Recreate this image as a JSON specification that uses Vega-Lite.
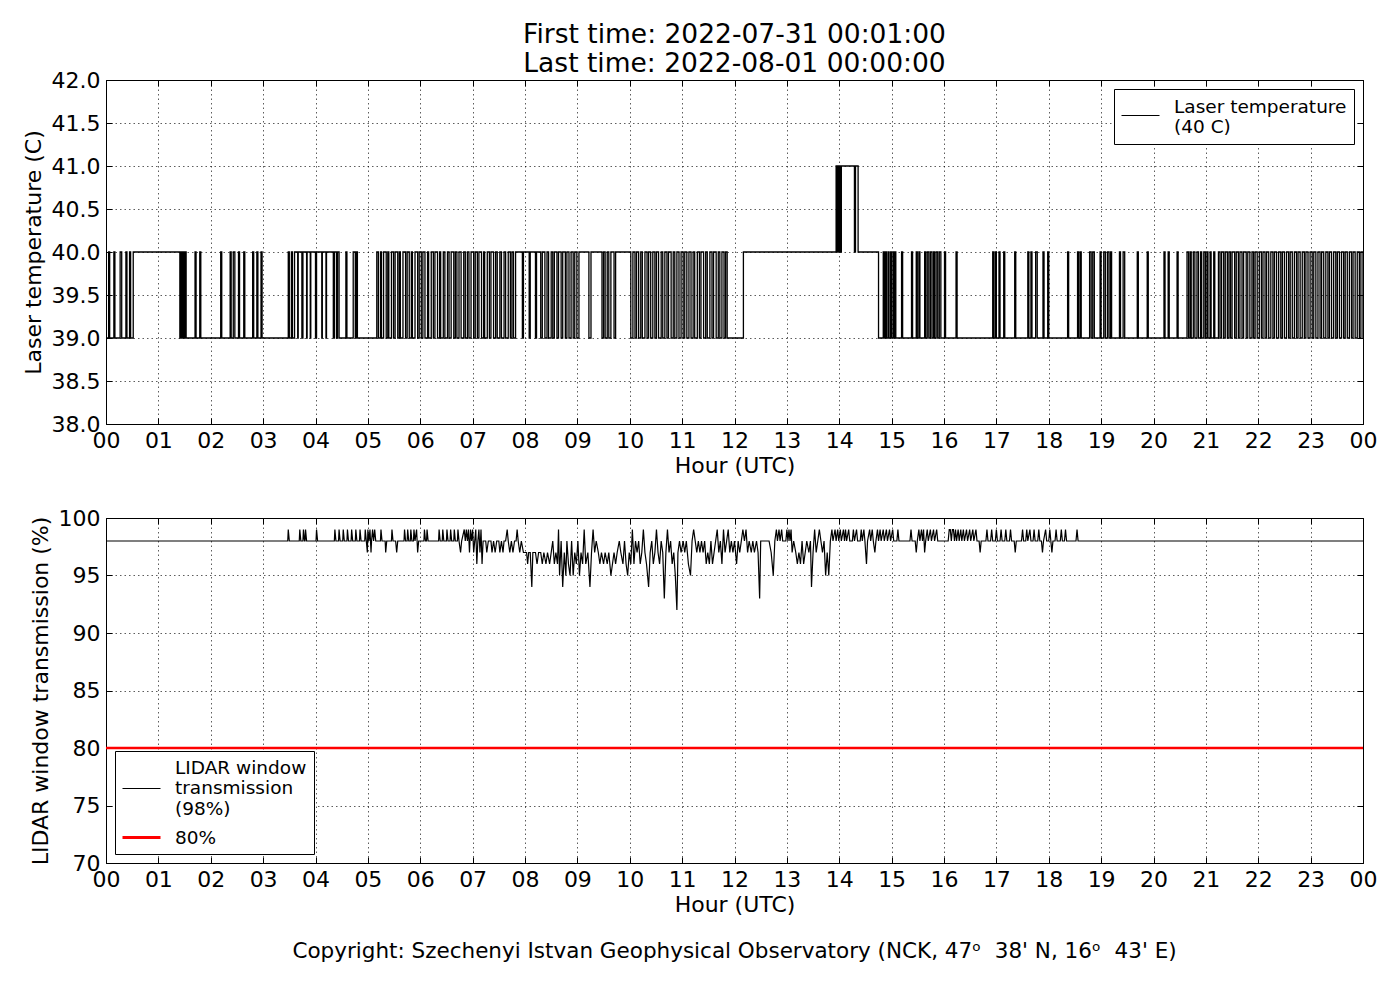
{
  "$schema": "https://vega.github.io/schema/vega-lite/v6.json",
  "padding": {"left": 21, "top": 21, "right": 5, "bottom": 5},
  "background": "white",
  "spacing": 29,
  "resolve": {"scale": {"color": "independent"}, "legend": {"color": "independent"}},
  "config": {
    "font": "DejaVu Sans",
    "view": {"stroke": "black", "strokeWidth": 1},
    "axis": {
      "labelFont": "DejaVu Sans", "labelFontSize": 22, "labelColor": "black",
      "titleFont": "DejaVu Sans", "titleFontSize": 22, "titleFontWeight": "normal", "titleColor": "black",
      "domain": false, "tickColor": "black", "tickSize": -6, "tickWidth": 1, "labelPadding": 12,
      "labelFlush": false, "labelOverlap": false, "labelBound": false, "zindex": 1,
      "gridColor": "black", "gridDash": [1.5, 3], "gridOpacity": 0.8, "gridWidth": 0.8
    },
    "legend": {
      "strokeColor": "black", "fillColor": "white", "padding": 7, "cornerRadius": 0, "zindex": 2,
      "symbolType": "stroke", "symbolSize": 1444, "symbolStrokeWidth": 1,
      "labelFont": "DejaVu Sans", "labelFontSize": 18.5, "labelColor": "black", "labelLimit": 400,
      "labelOffset": 14, "rowPadding": 6, "labelLineHeight": 21
    }
  },
  "datasets": {
    "laser": [
      {"h":0,"v":39},{"h":0.05,"v":40},{"h":0.07,"v":39},{"h":0.15,"v":40},{"h":0.17,"v":39},{"h":0.27,"v":40},{"h":0.30,"v":39},{"h":0.38,"v":40},{"h":0.40,"v":39},{"h":0.45,"v":40},{"h":0.47,"v":39},{"h":0.52,"v":40},
      {"h":1.41,"v":39},{"h":1.43,"v":40},{"h":1.45,"v":39},{"h":1.47,"v":40},{"h":1.49,"v":39},{"h":1.51,"v":40},{"h":1.53,"v":39},
      {"h":1.70,"v":40},{"h":1.72,"v":39},{"h":1.79,"v":40},{"h":1.81,"v":39},{"h":2.19,"v":40},{"h":2.21,"v":39},{"h":2.37,"v":40},{"h":2.39,"v":39},{"h":2.43,"v":40},{"h":2.46,"v":39},{"h":2.53,"v":40},{"h":2.55,"v":39},{"h":2.63,"v":40},{"h":2.65,"v":39},{"h":2.80,"v":40},{"h":2.82,"v":39},{"h":2.88,"v":40},{"h":2.90,"v":39},{"h":2.96,"v":40},{"h":2.98,"v":39},
      {"h":3.48,"v":40},{"h":3.50,"v":39},{"h":3.54,"v":40},{"h":3.56,"v":39},{"h":3.60,"v":40},{"h":3.66,"v":39},{"h":3.67,"v":40},{"h":3.74,"v":39},{"h":3.76,"v":40},{"h":3.83,"v":39},{"h":3.84,"v":40},{"h":3.90,"v":39},{"h":3.91,"v":40},{"h":4.00,"v":39},{"h":4.02,"v":40},{"h":4.12,"v":39},{"h":4.13,"v":40},{"h":4.20,"v":39},{"h":4.21,"v":40},{"h":4.34,"v":39},{"h":4.36,"v":40},{"h":4.40,"v":39},{"h":4.42,"v":40},{"h":4.45,"v":39},
      {"h":4.58,"v":40},{"h":4.60,"v":39},{"h":4.72,"v":40},{"h":4.76,"v":39},{"h":4.78,"v":40},{"h":4.80,"v":39},
      {"h":5.17,"v":40},{"h":5.20,"v":39},{"h":5.24,"v":40},{"h":5.26,"v":39},{"h":5.30,"v":40},{"h":5.35,"v":39},{"h":5.38,"v":40},{"h":5.40,"v":39},{"h":5.45,"v":40},{"h":5.49,"v":39},{"h":5.52,"v":40},{"h":5.57,"v":39},{"h":5.60,"v":40},{"h":5.62,"v":39},{"h":5.67,"v":40},{"h":5.72,"v":39},{"h":5.75,"v":40},{"h":5.79,"v":39},{"h":5.83,"v":40},{"h":5.85,"v":39},{"h":5.90,"v":40},{"h":5.95,"v":39},{"h":5.98,"v":40},{"h":6.02,"v":39},{"h":6.05,"v":40},{"h":6.09,"v":39},{"h":6.14,"v":40},{"h":6.16,"v":39},{"h":6.21,"v":40},{"h":6.25,"v":39},{"h":6.28,"v":40},{"h":6.33,"v":39},{"h":6.37,"v":40},{"h":6.39,"v":39},{"h":6.44,"v":40},{"h":6.47,"v":39},{"h":6.52,"v":40},{"h":6.55,"v":39},{"h":6.59,"v":40},{"h":6.64,"v":39},{"h":6.67,"v":40},{"h":6.70,"v":39},{"h":6.74,"v":40},{"h":6.78,"v":39},{"h":6.83,"v":40},{"h":6.86,"v":39},{"h":6.90,"v":40},{"h":6.93,"v":39},{"h":6.97,"v":40},{"h":7.02,"v":39},{"h":7.05,"v":40},{"h":7.09,"v":39},{"h":7.12,"v":40},{"h":7.17,"v":39},{"h":7.21,"v":40},{"h":7.23,"v":39},{"h":7.28,"v":40},{"h":7.32,"v":39},{"h":7.35,"v":40},{"h":7.40,"v":39},{"h":7.44,"v":40},{"h":7.47,"v":39},{"h":7.52,"v":40},{"h":7.55,"v":39},{"h":7.60,"v":40},{"h":7.63,"v":39},{"h":7.68,"v":40},{"h":7.72,"v":39},{"h":7.75,"v":40},{"h":7.78,"v":39},{"h":7.82,"v":40},
      {"h":7.95,"v":39},{"h":7.97,"v":40},{"h":8.08,"v":39},{"h":8.10,"v":40},{"h":8.20,"v":39},{"h":8.22,"v":40},{"h":8.30,"v":39},{"h":8.33,"v":40},
      {"h":8.38,"v":39},{"h":8.42,"v":40},{"h":8.45,"v":39},{"h":8.50,"v":40},{"h":8.53,"v":39},{"h":8.56,"v":40},{"h":8.61,"v":39},{"h":8.64,"v":40},{"h":8.69,"v":39},{"h":8.72,"v":40},{"h":8.77,"v":39},{"h":8.80,"v":40},{"h":8.84,"v":39},{"h":8.88,"v":40},{"h":8.92,"v":39},{"h":8.95,"v":40},{"h":8.99,"v":39},{"h":9.03,"v":40},
      {"h":9.22,"v":39},{"h":9.26,"v":40},{"h":9.47,"v":39},{"h":9.50,"v":40},{"h":9.53,"v":39},{"h":9.57,"v":40},{"h":9.60,"v":39},{"h":9.64,"v":40},{"h":9.70,"v":39},{"h":9.73,"v":40},
      {"h":10.02,"v":39},{"h":10.06,"v":40},{"h":10.10,"v":39},{"h":10.13,"v":40},{"h":10.17,"v":39},{"h":10.21,"v":40},{"h":10.24,"v":39},{"h":10.29,"v":40},{"h":10.33,"v":39},{"h":10.36,"v":40},{"h":10.40,"v":39},{"h":10.44,"v":40},{"h":10.48,"v":39},{"h":10.51,"v":40},{"h":10.55,"v":39},{"h":10.60,"v":40},{"h":10.63,"v":39},{"h":10.67,"v":40},{"h":10.71,"v":39},{"h":10.74,"v":40},{"h":10.79,"v":39},{"h":10.83,"v":40},{"h":10.86,"v":39},{"h":10.90,"v":40},{"h":10.94,"v":39},{"h":10.98,"v":40},{"h":11.02,"v":39},{"h":11.05,"v":40},{"h":11.09,"v":39},{"h":11.13,"v":40},{"h":11.17,"v":39},{"h":11.21,"v":40},{"h":11.24,"v":39},{"h":11.29,"v":40},{"h":11.33,"v":39},{"h":11.36,"v":40},{"h":11.41,"v":39},{"h":11.45,"v":40},{"h":11.48,"v":39},{"h":11.53,"v":40},{"h":11.57,"v":39},{"h":11.60,"v":40},{"h":11.65,"v":39},{"h":11.69,"v":40},{"h":11.72,"v":39},{"h":11.76,"v":40},{"h":11.80,"v":39},{"h":11.83,"v":40},{"h":11.86,"v":39},{"h":12.17,"v":40},
      {"h":13.94,"v":41},{"h":13.96,"v":40},{"h":13.97,"v":41},{"h":13.99,"v":40},{"h":14.00,"v":41},{"h":14.02,"v":40},{"h":14.04,"v":41},{"h":14.29,"v":40},{"h":14.31,"v":41},{"h":14.36,"v":40},{"h":14.75,"v":39},
      {"h":14.84,"v":40},{"h":14.86,"v":39},{"h":14.88,"v":40},{"h":14.90,"v":39},{"h":14.93,"v":40},{"h":14.95,"v":39},{"h":14.98,"v":40},{"h":15.00,"v":39},{"h":15.03,"v":40},{"h":15.05,"v":39},{"h":15.07,"v":40},{"h":15.08,"v":39},{"h":15.19,"v":40},{"h":15.21,"v":39},{"h":15.38,"v":40},{"h":15.40,"v":39},{"h":15.47,"v":40},{"h":15.49,"v":39},{"h":15.52,"v":40},{"h":15.54,"v":39},{"h":15.63,"v":40},{"h":15.65,"v":39},{"h":15.68,"v":40},{"h":15.71,"v":39},{"h":15.74,"v":40},{"h":15.77,"v":39},{"h":15.80,"v":40},{"h":15.82,"v":39},{"h":15.85,"v":40},{"h":15.88,"v":39},{"h":15.91,"v":40},{"h":15.94,"v":39},{"h":16.01,"v":40},{"h":16.03,"v":39},{"h":16.23,"v":40},{"h":16.25,"v":39},
      {"h":16.93,"v":40},{"h":16.95,"v":39},{"h":16.98,"v":40},{"h":17.00,"v":39},{"h":17.05,"v":40},{"h":17.07,"v":39},{"h":17.14,"v":40},{"h":17.16,"v":39},{"h":17.35,"v":40},{"h":17.37,"v":39},{"h":17.60,"v":40},{"h":17.62,"v":39},{"h":17.66,"v":40},{"h":17.68,"v":39},{"h":17.75,"v":40},{"h":17.78,"v":39},{"h":17.89,"v":40},{"h":17.91,"v":39},{"h":17.98,"v":40},{"h":18.00,"v":39},{"h":18.36,"v":40},{"h":18.38,"v":39},{"h":18.55,"v":40},{"h":18.57,"v":39},{"h":18.60,"v":40},{"h":18.62,"v":39},{"h":18.78,"v":40},{"h":18.81,"v":39},{"h":18.84,"v":40},{"h":18.87,"v":39},{"h":18.98,"v":40},{"h":19.00,"v":39},{"h":19.05,"v":40},{"h":19.08,"v":39},{"h":19.12,"v":40},{"h":19.15,"v":39},{"h":19.18,"v":40},{"h":19.20,"v":39},{"h":19.35,"v":40},{"h":19.37,"v":39},{"h":19.42,"v":40},{"h":19.45,"v":39},{"h":19.69,"v":40},{"h":19.71,"v":39},{"h":19.88,"v":40},{"h":19.90,"v":39},{"h":20.20,"v":40},{"h":20.22,"v":39},{"h":20.28,"v":40},{"h":20.30,"v":39},{"h":20.45,"v":40},{"h":20.47,"v":39},
      {"h":20.64,"v":40},{"h":20.67,"v":39},{"h":20.70,"v":40},{"h":20.72,"v":39},{"h":20.76,"v":40},{"h":20.79,"v":39},{"h":20.83,"v":40},{"h":20.86,"v":39},{"h":20.90,"v":40},{"h":20.92,"v":39},{"h":20.96,"v":40},{"h":20.99,"v":39},{"h":21.02,"v":40},{"h":21.04,"v":39},{"h":21.08,"v":40},{"h":21.10,"v":39},{"h":21.15,"v":40},{"h":21.17,"v":39},{"h":21.24,"v":40},{"h":21.27,"v":39},{"h":21.30,"v":40},{"h":21.34,"v":39},{"h":21.37,"v":40},{"h":21.41,"v":39},{"h":21.44,"v":40},{"h":21.47,"v":39},{"h":21.50,"v":40},{"h":21.55,"v":39},{"h":21.58,"v":40},{"h":21.62,"v":39},{"h":21.65,"v":40},{"h":21.69,"v":39},{"h":21.72,"v":40},{"h":21.77,"v":39},{"h":21.80,"v":40},{"h":21.84,"v":39},{"h":21.88,"v":40},{"h":21.91,"v":39},{"h":21.94,"v":40},{"h":21.98,"v":39},{"h":22.02,"v":40},{"h":22.06,"v":39},{"h":22.09,"v":40},{"h":22.13,"v":39},{"h":22.16,"v":40},{"h":22.20,"v":39},{"h":22.24,"v":40},{"h":22.28,"v":39},{"h":22.31,"v":40},{"h":22.35,"v":39},{"h":22.39,"v":40},{"h":22.43,"v":39},{"h":22.46,"v":40},{"h":22.50,"v":39},{"h":22.54,"v":40},{"h":22.58,"v":39},{"h":22.61,"v":40},{"h":22.65,"v":39},{"h":22.69,"v":40},{"h":22.73,"v":39},{"h":22.76,"v":40},{"h":22.80,"v":39},{"h":22.84,"v":40},{"h":22.88,"v":39},{"h":22.91,"v":40},{"h":22.95,"v":39},{"h":22.99,"v":40},{"h":23.03,"v":39},{"h":23.06,"v":40},{"h":23.10,"v":39},{"h":23.14,"v":40},{"h":23.18,"v":39},{"h":23.21,"v":40},{"h":23.25,"v":39},{"h":23.29,"v":40},{"h":23.33,"v":39},{"h":23.36,"v":40},{"h":23.40,"v":39},{"h":23.44,"v":40},{"h":23.48,"v":39},{"h":23.51,"v":40},{"h":23.55,"v":39},{"h":23.59,"v":40},{"h":23.63,"v":39},{"h":23.66,"v":40},{"h":23.70,"v":39},{"h":23.74,"v":40},{"h":23.78,"v":39},{"h":23.81,"v":40},{"h":23.85,"v":39},{"h":23.89,"v":40},{"h":23.93,"v":39},{"h":23.96,"v":40},{"h":24.00,"v":39}
    ],
    "lidar": [
      {"h":0,"v":98},{"h":3.47,"v":98},{"h":3.48,"v":99},{"h":3.50,"v":98},
      {"h":3.69,"v":98},{"h":3.70,"v":99},{"h":3.72,"v":98},{"h":3.76,"v":98},{"h":3.77,"v":99},{"h":3.79,"v":98},{"h":3.80,"v":98},{"h":3.81,"v":99},{"h":3.83,"v":98},
      {"h":4.01,"v":98},{"h":4.02,"v":99},{"h":4.04,"v":98},
      {"h":4.36,"v":98},{"h":4.37,"v":99},{"h":4.39,"v":98},{"h":4.44,"v":98},{"h":4.45,"v":99},{"h":4.47,"v":98},{"h":4.52,"v":98},{"h":4.53,"v":99},{"h":4.55,"v":98},{"h":4.60,"v":98},{"h":4.61,"v":99},{"h":4.63,"v":98},{"h":4.68,"v":98},{"h":4.69,"v":99},{"h":4.71,"v":98},{"h":4.76,"v":98},{"h":4.77,"v":99},{"h":4.79,"v":98},{"h":4.84,"v":98},{"h":4.85,"v":99},{"h":4.87,"v":98},
      {"h":4.94,"v":98},{"h":4.95,"v":99},{"h":4.97,"v":98},{"h":4.99,"v":97},{"h":5.00,"v":99},{"h":5.02,"v":98},{"h":5.04,"v":99},{"h":5.06,"v":97},{"h":5.07,"v":98},{"h":5.09,"v":99},{"h":5.11,"v":98},{"h":5.13,"v":99},{"h":5.15,"v":98},
      {"h":5.24,"v":98},{"h":5.25,"v":99},{"h":5.27,"v":98},{"h":5.33,"v":98},{"h":5.34,"v":97},{"h":5.36,"v":98},
      {"h":5.45,"v":98},{"h":5.46,"v":99},{"h":5.48,"v":98},{"h":5.53,"v":98},{"h":5.55,"v":97},{"h":5.57,"v":98},
      {"h":5.69,"v":98},{"h":5.70,"v":99},{"h":5.72,"v":98},{"h":5.75,"v":98},{"h":5.76,"v":99},{"h":5.78,"v":98},{"h":5.81,"v":98},{"h":5.82,"v":99},{"h":5.84,"v":98},{"h":5.87,"v":98},{"h":5.88,"v":99},{"h":5.90,"v":98},{"h":5.93,"v":99},{"h":5.95,"v":97},{"h":5.97,"v":98},
      {"h":6.07,"v":98},{"h":6.08,"v":99},{"h":6.10,"v":98},{"h":6.12,"v":98},{"h":6.13,"v":99},{"h":6.15,"v":98},
      {"h":6.35,"v":98},{"h":6.36,"v":99},{"h":6.38,"v":98},{"h":6.42,"v":98},{"h":6.43,"v":99},{"h":6.45,"v":98},{"h":6.50,"v":98},{"h":6.51,"v":99},{"h":6.53,"v":98},{"h":6.57,"v":98},{"h":6.58,"v":99},{"h":6.60,"v":98},{"h":6.64,"v":98},{"h":6.65,"v":99},{"h":6.67,"v":98},{"h":6.71,"v":98},{"h":6.72,"v":99},{"h":6.74,"v":98},{"h":6.77,"v":97},{"h":6.79,"v":98},
      {"h":6.84,"v":99},{"h":6.86,"v":98},{"h":6.88,"v":99},{"h":6.90,"v":98},{"h":6.92,"v":99},{"h":6.94,"v":97},{"h":6.96,"v":99},{"h":6.98,"v":98},{"h":7.00,"v":99},{"h":7.02,"v":97},{"h":7.04,"v":98},{"h":7.06,"v":99},{"h":7.08,"v":96},{"h":7.10,"v":98},{"h":7.12,"v":99},{"h":7.14,"v":97},{"h":7.16,"v":99},{"h":7.18,"v":96},{"h":7.20,"v":98},
      {"h":7.25,"v":98},{"h":7.27,"v":97},{"h":7.30,"v":98},{"h":7.35,"v":98},{"h":7.37,"v":97},{"h":7.40,"v":98},{"h":7.43,"v":97},{"h":7.46,"v":98},
      {"h":7.50,"v":98},{"h":7.52,"v":97},{"h":7.55,"v":98},{"h":7.58,"v":97},{"h":7.60,"v":98},{"h":7.63,"v":98},{"h":7.66,"v":99},{"h":7.68,"v":98},{"h":7.71,"v":97},{"h":7.74,"v":98},{"h":7.77,"v":97},{"h":7.80,"v":98},{"h":7.83,"v":98},{"h":7.85,"v":99},{"h":7.87,"v":98},{"h":7.90,"v":97},{"h":7.93,"v":98},
      {"h":7.97,"v":97},{"h":8.03,"v":97},{"h":8.05,"v":96},{"h":8.07,"v":97},{"h":8.10,"v":97},{"h":8.13,"v":94},{"h":8.15,"v":97},{"h":8.20,"v":97},{"h":8.23,"v":96},{"h":8.26,"v":97},{"h":8.30,"v":97},{"h":8.33,"v":96},{"h":8.36,"v":97},{"h":8.40,"v":96},{"h":8.43,"v":97},{"h":8.47,"v":96},{"h":8.50,"v":97},{"h":8.53,"v":98},{"h":8.56,"v":96},{"h":8.59,"v":97},{"h":8.62,"v":96},{"h":8.64,"v":99},{"h":8.66,"v":95},{"h":8.69,"v":98},{"h":8.72,"v":94},{"h":8.75,"v":97},{"h":8.78,"v":95},{"h":8.80,"v":98},{"h":8.83,"v":96},{"h":8.86,"v":95},{"h":8.89,"v":98},{"h":8.92,"v":95},{"h":8.95,"v":97},{"h":8.98,"v":96},{"h":9.01,"v":98},{"h":9.04,"v":95},{"h":9.07,"v":97},{"h":9.10,"v":96},{"h":9.13,"v":99},{"h":9.16,"v":96},{"h":9.20,"v":97},{"h":9.24,"v":94},{"h":9.27,"v":97},{"h":9.30,"v":99},{"h":9.33,"v":97},{"h":9.36,"v":98},{"h":9.40,"v":97},{"h":9.43,"v":96},{"h":9.46,"v":97},{"h":9.50,"v":96},{"h":9.53,"v":97},{"h":9.57,"v":96},{"h":9.60,"v":97},{"h":9.64,"v":95},{"h":9.67,"v":96},{"h":9.70,"v":97},{"h":9.73,"v":96},
      {"h":9.76,"v":97},{"h":9.80,"v":98},{"h":9.83,"v":97},{"h":9.87,"v":96},{"h":9.90,"v":98},{"h":9.93,"v":96},{"h":9.96,"v":95},{"h":9.99,"v":97},{"h":10.02,"v":96},{"h":10.05,"v":99},{"h":10.08,"v":96},{"h":10.11,"v":98},{"h":10.14,"v":97},{"h":10.17,"v":98},{"h":10.20,"v":96},{"h":10.23,"v":97},{"h":10.26,"v":99},{"h":10.29,"v":97},{"h":10.32,"v":96},{"h":10.36,"v":94},{"h":10.39,"v":97},{"h":10.42,"v":98},{"h":10.45,"v":96},{"h":10.48,"v":97},{"h":10.51,"v":99},{"h":10.54,"v":97},{"h":10.57,"v":96},{"h":10.60,"v":98},{"h":10.63,"v":97},{"h":10.66,"v":93},{"h":10.69,"v":97},{"h":10.72,"v":99},{"h":10.75,"v":97},{"h":10.78,"v":98},{"h":10.81,"v":96},{"h":10.84,"v":97},{"h":10.87,"v":95},{"h":10.90,"v":92},{"h":10.92,"v":97},{"h":10.95,"v":98},{"h":10.98,"v":97},{"h":11.02,"v":98},{"h":11.05,"v":97},{"h":11.08,"v":98},{"h":11.12,"v":96},{"h":11.16,"v":95},{"h":11.19,"v":98},{"h":11.22,"v":99},{"h":11.25,"v":98},{"h":11.28,"v":97},{"h":11.31,"v":98},{"h":11.34,"v":97},{"h":11.37,"v":98},{"h":11.40,"v":97},{"h":11.43,"v":98},{"h":11.46,"v":96},{"h":11.49,"v":97},{"h":11.52,"v":96},{"h":11.55,"v":98},{"h":11.58,"v":96},{"h":11.61,"v":97},{"h":11.64,"v":98},{"h":11.67,"v":99},{"h":11.70,"v":97},{"h":11.73,"v":98},{"h":11.76,"v":96},{"h":11.79,"v":99},{"h":11.82,"v":97},{"h":11.85,"v":98},{"h":11.88,"v":99},{"h":11.91,"v":97},{"h":11.94,"v":98},{"h":11.97,"v":97},{"h":12.00,"v":98},{"h":12.04,"v":96},{"h":12.07,"v":98},{"h":12.10,"v":97},{"h":12.13,"v":98},{"h":12.16,"v":99},{"h":12.19,"v":98},{"h":12.22,"v":99},{"h":12.25,"v":97},{"h":12.28,"v":98},{"h":12.32,"v":97},{"h":12.35,"v":98},{"h":12.38,"v":97},{"h":12.42,"v":98},{"h":12.45,"v":97},{"h":12.48,"v":93},{"h":12.50,"v":98},{"h":12.66,"v":98},{"h":12.70,"v":97},{"h":12.74,"v":95},{"h":12.77,"v":98},{"h":12.80,"v":99},{"h":12.82,"v":98},{"h":12.85,"v":99},{"h":12.87,"v":98},{"h":12.90,"v":99},{"h":12.92,"v":98},
      {"h":12.98,"v":98},{"h":13.00,"v":99},{"h":13.02,"v":98},{"h":13.04,"v":99},{"h":13.06,"v":98},{"h":13.08,"v":99},{"h":13.10,"v":97},{"h":13.13,"v":98},{"h":13.17,"v":97},{"h":13.20,"v":96},{"h":13.23,"v":97},{"h":13.26,"v":96},{"h":13.29,"v":98},{"h":13.32,"v":96},{"h":13.35,"v":97},{"h":13.38,"v":98},{"h":13.42,"v":97},{"h":13.45,"v":98},{"h":13.47,"v":94},{"h":13.50,"v":97},{"h":13.53,"v":99},{"h":13.56,"v":97},{"h":13.59,"v":98},{"h":13.62,"v":99},{"h":13.65,"v":98},{"h":13.68,"v":97},{"h":13.71,"v":98},{"h":13.74,"v":95},{"h":13.77,"v":97},{"h":13.80,"v":95},{"h":13.83,"v":98},{"h":13.86,"v":99},{"h":13.88,"v":98},
      {"h":13.92,"v":99},{"h":13.94,"v":98},{"h":13.97,"v":99},{"h":13.99,"v":98},{"h":14.02,"v":99},{"h":14.04,"v":98},{"h":14.08,"v":99},{"h":14.10,"v":98},{"h":14.12,"v":99},{"h":14.14,"v":98},{"h":14.18,"v":99},{"h":14.20,"v":98},{"h":14.25,"v":98},{"h":14.27,"v":99},{"h":14.29,"v":98},{"h":14.33,"v":99},{"h":14.35,"v":98},{"h":14.40,"v":98},{"h":14.42,"v":99},{"h":14.44,"v":98},{"h":14.47,"v":99},{"h":14.49,"v":98},{"h":14.52,"v":96},{"h":14.54,"v":98},{"h":14.58,"v":99},{"h":14.60,"v":98},{"h":14.63,"v":99},{"h":14.65,"v":98},{"h":14.68,"v":97},{"h":14.70,"v":98},{"h":14.73,"v":99},{"h":14.75,"v":98},{"h":14.78,"v":99},{"h":14.80,"v":98},{"h":14.84,"v":99},{"h":14.86,"v":98},{"h":14.90,"v":99},{"h":14.92,"v":98},{"h":14.96,"v":99},{"h":14.98,"v":98},{"h":15.02,"v":99},{"h":15.04,"v":98},
      {"h":15.10,"v":98},{"h":15.12,"v":99},{"h":15.14,"v":98},
      {"h":15.35,"v":98},{"h":15.37,"v":99},{"h":15.39,"v":98},{"h":15.45,"v":98},{"h":15.47,"v":97},{"h":15.49,"v":98},{"h":15.52,"v":99},{"h":15.54,"v":98},{"h":15.57,"v":99},{"h":15.59,"v":98},{"h":15.61,"v":99},{"h":15.63,"v":97},{"h":15.65,"v":98},{"h":15.68,"v":99},{"h":15.70,"v":98},{"h":15.74,"v":99},{"h":15.76,"v":98},{"h":15.80,"v":99},{"h":15.82,"v":98},{"h":15.86,"v":99},{"h":15.88,"v":98},
      {"h":16.08,"v":98},{"h":16.10,"v":99},{"h":16.12,"v":99},{"h":16.14,"v":98},{"h":16.16,"v":99},{"h":16.18,"v":99},{"h":16.20,"v":98},{"h":16.22,"v":99},{"h":16.24,"v":98},{"h":16.27,"v":99},{"h":16.29,"v":98},{"h":16.32,"v":99},{"h":16.34,"v":98},{"h":16.37,"v":99},{"h":16.39,"v":98},{"h":16.43,"v":99},{"h":16.45,"v":98},{"h":16.49,"v":99},{"h":16.51,"v":98},{"h":16.55,"v":99},{"h":16.57,"v":98},{"h":16.61,"v":99},{"h":16.63,"v":98},{"h":16.67,"v":98},{"h":16.69,"v":97},{"h":16.71,"v":98},
      {"h":16.80,"v":98},{"h":16.82,"v":99},{"h":16.84,"v":98},{"h":16.89,"v":98},{"h":16.91,"v":99},{"h":16.93,"v":98},{"h":16.98,"v":98},{"h":17.00,"v":99},{"h":17.02,"v":98},{"h":17.07,"v":98},{"h":17.09,"v":99},{"h":17.11,"v":98},{"h":17.16,"v":98},{"h":17.18,"v":99},{"h":17.20,"v":98},{"h":17.25,"v":98},{"h":17.27,"v":99},{"h":17.29,"v":98},{"h":17.34,"v":98},{"h":17.36,"v":97},{"h":17.38,"v":98},
      {"h":17.48,"v":98},{"h":17.50,"v":99},{"h":17.52,"v":98},{"h":17.56,"v":98},{"h":17.58,"v":99},{"h":17.60,"v":98},{"h":17.64,"v":99},{"h":17.66,"v":98},{"h":17.70,"v":98},{"h":17.72,"v":99},{"h":17.74,"v":98},{"h":17.79,"v":98},{"h":17.81,"v":99},{"h":17.83,"v":98},{"h":17.86,"v":98},{"h":17.88,"v":97},{"h":17.90,"v":98},{"h":17.94,"v":99},{"h":17.96,"v":98},{"h":18.00,"v":98},{"h":18.02,"v":99},{"h":18.04,"v":98},{"h":18.06,"v":97},{"h":18.08,"v":98},{"h":18.12,"v":98},{"h":18.14,"v":99},{"h":18.16,"v":98},{"h":18.22,"v":98},{"h":18.24,"v":99},{"h":18.26,"v":98},{"h":18.30,"v":98},{"h":18.32,"v":99},{"h":18.34,"v":98},
      {"h":18.52,"v":98},{"h":18.54,"v":99},{"h":18.56,"v":98},{"h":24,"v":98}
    ],
    "limit": [{"h":0,"v":80},{"h":24,"v":80}]
  },
  "vconcat": [
    {
      "width": 1257,
      "height": 344,
      "title": {
        "text": ["First time: 2022-07-31 00:01:00", "Last time: 2022-08-01 00:00:00"],
        "font": "DejaVu Sans", "fontSize": 26.5, "fontWeight": "normal", "lineHeight": 29,
        "color": "black", "anchor": "middle", "frame": "group", "offset": -8
      },
      "resolve": {"axis": {"x": "independent", "y": "independent"}},
      "layer": [
        {
          "data": {"name": "laser"},
          "mark": {"type": "line", "interpolate": "step-after", "strokeWidth": 1.3},
          "encoding": {
            "x": {"field": "h", "type": "quantitative",
              "scale": {"domain": [0, 24], "nice": false, "zero": false},
              "axis": {"orient": "bottom", "title": "Hour (UTC)", "titlePadding": 4,
                "values": [0,1,2,3,4,5,6,7,8,9,10,11,12,13,14,15,16,17,18,19,20,21,22,23,24],
                "labelExpr": "datum.value == 24 ? '00' : (datum.value < 10 ? '0' + datum.value : '' + datum.value)"}},
            "y": {"field": "v", "type": "quantitative",
              "scale": {"domain": [38, 42], "nice": false, "zero": false},
              "axis": {"orient": "left", "title": "Laser temperature (C)", "titlePadding": 6,
                "values": [38, 38.5, 39, 39.5, 40, 40.5, 41, 41.5, 42], "format": ".1f"}},
            "color": {"datum": "Laser temperature (40 C)", "type": "nominal",
              "scale": {"domain": ["Laser temperature (40 C)"], "range": ["black"]},
              "legend": {"title": null, "orient": "top-right", "offset": 9,
                "labelExpr": "['Laser temperature', '(40 C)']",
                "encode": {"labels": {"update": {"dy": {"value": -9}}}}}}
          }
        },
        {
          "data": {"name": "laser"},
          "mark": {"type": "line", "interpolate": "step-after", "opacity": 0},
          "encoding": {
            "x": {"field": "h", "type": "quantitative",
              "axis": {"orient": "top", "title": null, "labels": false, "grid": false,
                "values": [0,1,2,3,4,5,6,7,8,9,10,11,12,13,14,15,16,17,18,19,20,21,22,23,24]}},
            "y": {"field": "v", "type": "quantitative",
              "axis": {"orient": "right", "title": null, "labels": false, "grid": false,
                "values": [38, 38.5, 39, 39.5, 40, 40.5, 41, 41.5, 42]}}
          }
        }
      ]
    },
    {
      "width": 1257,
      "height": 345,
      "title": {
        "text": "Copyright: Szechenyi Istvan Geophysical Observatory (NCK, 47ᵒ\u00a0\u00a038' N, 16ᵒ\u00a0\u00a043' E)",
        "orient": "bottom", "font": "DejaVu Sans", "fontSize": 21.5, "fontWeight": "normal",
        "color": "black", "anchor": "middle", "frame": "group", "offset": 26
      },
      "resolve": {"axis": {"x": "independent", "y": "independent"}},
      "layer": [
        {
          "data": {"name": "lidar"},
          "mark": {"type": "line", "strokeWidth": 1.2},
          "encoding": {
            "x": {"field": "h", "type": "quantitative",
              "scale": {"domain": [0, 24], "nice": false, "zero": false},
              "axis": {"orient": "bottom", "title": "Hour (UTC)", "titlePadding": 4,
                "values": [0,1,2,3,4,5,6,7,8,9,10,11,12,13,14,15,16,17,18,19,20,21,22,23,24],
                "labelExpr": "datum.value == 24 ? '00' : (datum.value < 10 ? '0' + datum.value : '' + datum.value)"}},
            "y": {"field": "v", "type": "quantitative",
              "scale": {"domain": [70, 100], "nice": false, "zero": false},
              "axis": {"orient": "left", "title": "LIDAR window transmission (%)", "titlePadding": 6,
                "values": [70, 75, 80, 85, 90, 95, 100]}},
            "color": {"datum": "LIDAR window transmission (98%)", "type": "nominal",
              "scale": {"domain": ["LIDAR window transmission (98%)", "80%"], "range": ["black", "red"]},
              "legend": {"title": "\u00a0", "titleFontSize": 11, "titlePadding": 0, "rowPadding": -3,
                "orient": "bottom-left", "offset": 9,
                "labelExpr": "datum.value == '80%' ? '80%' : ['LIDAR window', 'transmission', '(98%)']",
                "encode": {
                  "symbols": {"update": {"strokeWidth": {"signal": "(datum.value == '80%' ? 3 : 1)"}}},
                  "labels": {"update": {"dy": {"signal": "(datum.value == '80%' ? 0 : -21)"}}}
                }}}
          }
        },
        {
          "data": {"name": "limit"},
          "mark": {"type": "line", "strokeWidth": 2.5},
          "encoding": {
            "x": {"field": "h", "type": "quantitative",
              "axis": {"orient": "top", "title": null, "labels": false, "grid": false,
                "values": [0,1,2,3,4,5,6,7,8,9,10,11,12,13,14,15,16,17,18,19,20,21,22,23,24]}},
            "y": {"field": "v", "type": "quantitative",
              "axis": {"orient": "right", "title": null, "labels": false, "grid": false,
                "values": [70, 75, 80, 85, 90, 95, 100]}},
            "color": {"datum": "80%", "type": "nominal"}
          }
        }
      ]
    }
  ]
}
